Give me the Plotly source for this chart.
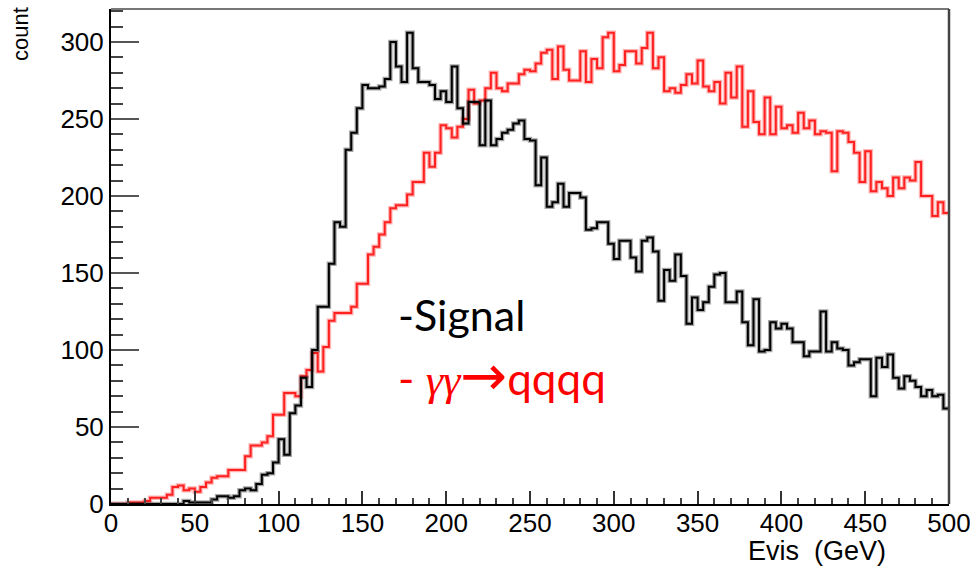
import numpy as np
import plotly.graph_objects as go

# ---------------- data ----------------
e_min, e_max, n_bins = 0.0, 500.0, 150

signal = [
    0, 0, 0, 0, 0, 0, 0, 0, 0, 0, 0, 0, 0, 2, 1, 1, 1, 1, 3, 5, 5, 4, 5, 9, 10,
    9, 13, 19, 20, 27, 42, 32, 59, 64, 82, 76, 100, 128, 128, 156, 183, 180, 230, 241, 257, 272, 270, 270, 271, 276,
    300, 284, 274, 306, 283, 274, 274, 272, 263, 268, 261, 284, 257, 247, 261, 261, 233, 262, 233, 237, 241, 243, 247, 249, 237,
    236, 207, 225, 193, 196, 208, 193, 202, 202, 199, 178, 179, 183, 183, 169, 159, 171, 171, 160, 151, 171, 173, 164, 132, 152,
    145, 162, 148, 117, 134, 126, 131, 141, 149, 150, 131, 131, 138, 118, 103, 133, 99, 100, 118, 114, 117, 114, 105, 105, 96,
    99, 99, 125, 99, 105, 101, 100, 90, 92, 94, 94, 70, 95, 89, 97, 82, 75, 83, 80, 76, 70, 74, 70, 71, 62,
]

gg_qqqq = [
    0, 0, 0, 1, 1, 1, 2, 4, 4, 4, 6, 11, 12, 9, 10, 8, 11, 14, 17, 18, 18, 22, 22, 22, 31,
    38, 38, 40, 44, 58, 58, 72, 72, 70, 83, 87, 98, 86, 102, 119, 124, 124, 124, 128, 143, 143, 162, 167, 175, 183,
    192, 194, 194, 201, 209, 209, 228, 219, 228, 246, 244, 238, 245, 250, 269, 260, 262, 270, 280, 270, 268, 273, 273, 279, 282,
    281, 286, 293, 295, 276, 297, 282, 275, 275, 294, 274, 289, 283, 303, 306, 281, 285, 294, 294, 286, 296, 306, 283, 290, 268,
    270, 267, 272, 279, 273, 288, 271, 268, 274, 260, 280, 264, 284, 245, 268, 248, 240, 264, 240, 258, 244, 246, 241, 254, 244,
    249, 240, 242, 241, 216, 242, 241, 235, 228, 209, 229, 203, 209, 205, 200, 212, 205, 212, 210, 222, 200, 200, 187, 196, 189,
]

x_ticks = [0, 50, 100, 150, 200, 250, 300, 350, 400, 450, 500]
y_ticks = [0, 50, 100, 150, 200, 250, 300]

edges = np.linspace(e_min, e_max, n_bins + 1)


def step_xy(vals):
    return edges, list(vals) + [vals[-1]]


fig = go.Figure()

for vals, col, halo in [
    (gg_qqqq, "#ff2020", "rgba(255,40,40,0.35)"),
    (signal, "#000000", "rgba(0,0,0,0.35)"),
]:
    xs, ys = step_xy(vals)
    fig.add_trace(go.Scatter(x=xs, y=ys, mode="lines", line=dict(shape="hv", color=halo, width=4.5),
                             showlegend=False, hoverinfo="skip"))
    fig.add_trace(go.Scatter(x=xs, y=ys, mode="lines", line=dict(shape="hv", color=col, width=2),
                             showlegend=False))

tick_font = dict(family="Liberation Sans, Arial, sans-serif", size=26, color="#000000")

fig.update_layout(
    width=970, height=571,
    margin=dict(l=111, r=21, t=9, b=67, autoexpand=False),
    paper_bgcolor="white", plot_bgcolor="white",
    xaxis=dict(
        range=[e_min, e_max], tickvals=x_ticks, ticktext=[str(v) for v in x_ticks],
        ticks="inside", ticklen=13, tickwidth=2, tickcolor="#333333",
        minor=dict(ticks="inside", ticklen=6, tickwidth=2, tickcolor="#444444", dtick=10, showgrid=False),
        showgrid=False, zeroline=False, showline=True, linecolor="#000000", linewidth=2,
        tickfont=tick_font, ticklabeloverflow="allow", ticklabelstandoff=-5, automargin=False,
    ),
    yaxis=dict(
        range=[0, 321.4], tickvals=y_ticks, ticktext=[str(v) for v in y_ticks],
        ticks="inside", ticklen=28, tickwidth=2, tickcolor="#555555",
        minor=dict(ticks="inside", ticklen=12, tickwidth=2, tickcolor="#444444", dtick=10, showgrid=False),
        showgrid=False, zeroline=False, showline=True, linecolor="#000000", linewidth=2,
        tickfont=tick_font, automargin=False,
    ),
    shapes=[
        dict(type="line", xref="paper", yref="paper", x0=0, x1=1, y0=1, y1=1,
             line=dict(color="#777777", width=2)),
        dict(type="line", xref="paper", yref="paper", x0=1, x1=1, y0=0, y1=1,
             line=dict(color="#444444", width=2.5)),
    ],
    annotations=[
        dict(text="Evis  (GeV)", xref="paper", yref="paper", x=(888 - 111) / 838, y=(504 - 551) / 495,
             xanchor="right", yanchor="middle", showarrow=False,
             font=dict(family="Liberation Sans, Arial, sans-serif", size=27, color="#000000")),
        dict(text="count", xref="paper", yref="paper", x=(21 - 111) / 838, y=(504 - 5) / 495,
             xanchor="center", yanchor="top", textangle=-90, showarrow=False,
             font=dict(family="Liberation Sans, Arial, sans-serif", size=22, color="#000000")),
        dict(text="-Signal", xref="paper", yref="paper", x=(396 - 111) / 838, y=(504 - 314) / 495,
             xanchor="left", yanchor="middle", showarrow=False,
             font=dict(family="Lato, sans-serif", size=43, color="#000000")),
        dict(text="- <span style=\"font-family:'Liberation Serif'\"><i>γγ</i></span>"
                  "<span style=\"font-family:'DejaVu Sans';font-size:56px\">→</span>qqqq",
             xref="paper", yref="paper", x=(396 - 111) / 838, y=(504 - 375) / 495,
             xanchor="left", yanchor="middle", showarrow=False,
             font=dict(family="Lato, sans-serif", size=44, color="#ff0000")),
    ],
)

fig.write_html("out.html")
